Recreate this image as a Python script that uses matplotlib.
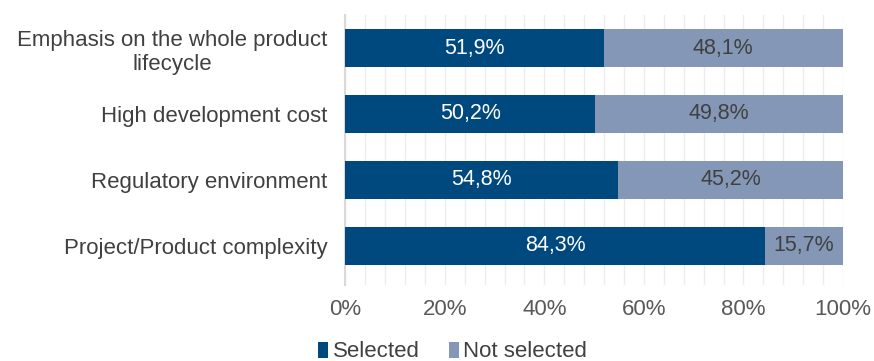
import numpy as np
import matplotlib.pyplot as plt
from matplotlib.ticker import MultipleLocator, FuncFormatter

plt.rcParams['font.family'] = ['Liberation Sans', 'DejaVu Sans']

categories = ['Emphasis on the whole product\nlifecycle', 'High development cost',
              'Regulatory environment', 'Project/Product complexity']
selected = [51.9, 50.2, 54.8, 84.3]
not_selected = [48.1, 49.8, 45.2, 15.7]

c_sel = '#00497f'
c_not = '#8497b6'

fig = plt.figure(figsize=(8.74, 3.61), dpi=100)
ax = fig.add_axes([0.395, 0.21, 0.5695, 0.748])

y = np.arange(len(categories))
ax.barh(y, selected, height=0.58, color=c_sel, label='Selected', zorder=3)
ax.barh(y, not_selected, left=selected, height=0.58, color=c_not,
        label='Not selected', zorder=3)

for i in range(len(categories)):
    ax.text(selected[i] / 2, y[i], f'{selected[i]:.1f}%'.replace('.', ','),
            ha='center', va='center', color='white', fontsize=15.5, zorder=4)
    ax.text(selected[i] + not_selected[i] / 2, y[i],
            f'{not_selected[i]:.1f}%'.replace('.', ','),
            ha='center', va='center', color='#404040', fontsize=15.5, zorder=4)

ax.set_xlim(0, 100)
ax.set_ylim(3.6, -0.5)
ax.set_yticks(y)
ax.set_yticklabels(categories, fontsize=16, color='#404040', multialignment='center')
ax.xaxis.set_major_locator(MultipleLocator(20))
ax.xaxis.set_minor_locator(MultipleLocator(4))
ax.xaxis.set_major_formatter(FuncFormatter(lambda v, p: f'{v:.0f}%'))
ax.tick_params(axis='x', labelsize=16, labelcolor='#595959', length=0, pad=10,
               which='both')
ax.tick_params(axis='y', length=0, pad=13)
ax.grid(axis='x', which='both', color='#ececec', linewidth=1, zorder=0)
for s in ['top', 'right', 'bottom']:
    ax.spines[s].set_visible(False)
ax.spines['left'].set_color('#d9d9d9')
ax.spines['left'].set_linewidth(1.5)

fig.legend(*ax.get_legend_handles_labels(), loc='center', bbox_to_anchor=(0.518, 0.025),
           ncol=2, frameon=False, fontsize=16,
           handlelength=0.45, handleheight=0.75, handletextpad=0.2, columnspacing=1.3,
           labelcolor='#404040')

fig.savefig('out.png', dpi=100)
